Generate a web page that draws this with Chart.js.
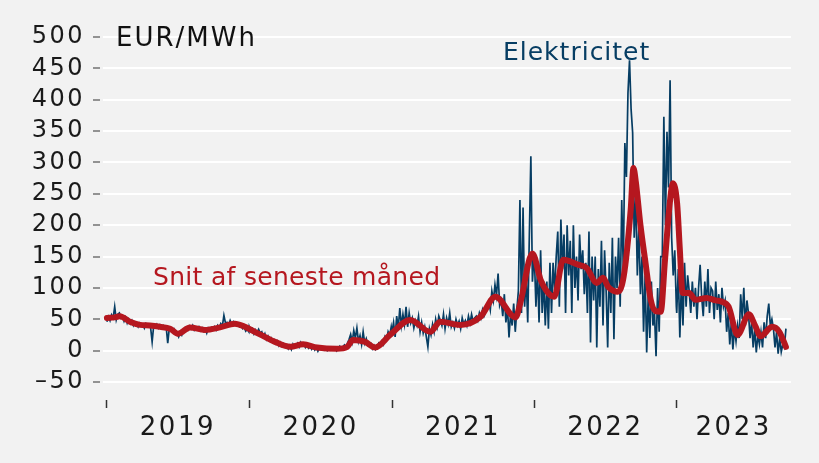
<!DOCTYPE html>
<html lang="da">
<head>
<meta charset="utf-8">
<title>Elektricitet</title>
<script src="https://cdn.jsdelivr.net/npm/chart.js@4.4.0/dist/chart.umd.min.js"></script>
<style>
  html, body { margin: 0; padding: 0; background: #f2f2f2; }
  #graf { display: block; }
</style>
</head>
<body>
<canvas id="graf" width="819" height="463"></canvas>
<script>
// Dage regnes fra 1. januar 2019
const aarStart = [0, 365, 731, 1096, 1461];
const aarMidt = [182, 548, 913, 1278, 1607];
const aarNavn = ['2019', '2020', '2021', '2022', '2023'];
const yTicks = [-50, 0, 50, 100, 150, 200, 250, 300, 350, 400, 450, 500];
const stepDage = 4;

// Elpris (EUR/MWh), et punkt hver 4. dag
const pris2019 = [46, 54, 48, 57, 52, 70, 49, 58,
  60, 52, 55, 47, 53, 44, 50,
  43, 48, 40, 45, 42, 38, 44, 41,
  42, 36, 43, 39, 41, 37, 14, 40,
  38, 42, 36, 41, 37, 40, 35,
  38, 12, 36, 33, 30, 34, 26, 28,
  22, 30, 25, 33, 31, 36, 33, 39,
  35, 40, 33, 37, 34, 38, 32, 36,
  31, 35, 28, 36, 33, 37, 34,
  38, 33, 40, 36, 43, 39, 56, 44,
  45, 40, 48, 42, 46, 41, 44,
  42, 38, 40, 35, 37, 31, 34, 30];
const pris2020 = [38, 31, 35, 27, 33, 29, 34, 28,
  30, 22, 27, 18, 23, 16, 20, 14,
  17, 11, 15, 8, 13, 7, 11, 6,
  9, 3, 8, 2, 10, 5, 9,
  12, 6, 13, 8, 11, 5, 9, 4,
  7, 2, 6, 1, 5, -1, 4, 2,
  5, 1, 4, 0, 3, 1, 4,
  2, 5, 0, 4, 7, 3, 6, 9,
  5, 12, 18, 26, 14, 32, 20, 36,
  15, 24, 10, 30, 12, 19, 8,
  7, 11, 3, 8, 2, 6, 12, 9,
  15, 10, 22, 17, 30, 24, 38];
const pris2021 = [30, 45, 22, 55, 35, 68, 40, 58,
  42, 70, 38, 60, 44, 52, 36, 48,
  40, 55, 30, 45, 28, 38, 22, 6,
  35, 25, 42, 30, 50, 38, 55,
  48, 40, 58, 35, 52, 42, 60, 38,
  45, 36, 50, 40, 47, 35, 52, 42,
  48, 40, 55, 44, 58, 47, 52,
  55, 48, 60, 52, 65, 55, 62, 70,
  78, 65, 95, 80, 105, 88, 123, 72,
  80, 55, 90, 45, 70, 21, 60,
  40, 75, 30, 65, 95, 240, 60, 228,
  70, 120, 45, 180, 310, 110, 150];
const pris2022 = [150, 70, 130, 45, 160, 60, 110, 40,
  110, 35, 140, 60, 140, 95, 150,
  190, 70, 209, 130, 185, 60, 200, 120,
  175, 60, 200, 100, 150, 80, 185, 130,
  160, 90, 140, 60, 190, 13, 150,
  80, 150, 5, 130, 70, 175, 40, 160,
  95, 5, 140, 60, 180, 18, 150, 100,
  180, 70, 240, 130, 331, 277, 411, 463,
  385, 347, 180, 250, 120, 200, 90,
  150, 30, 120, -3, 90, 20, 110, 40,
  60, -9, 100, 30, 150,
  150, 373, 200, 349, 260, 431, 180, 120, 160, 70];
const pris2023 = [60, 130, 21, 110, 40, 140, 70, 120,
  95, 60, 110, 70, 100, 50, 100,
  137, 85, 55, 110, 70, 130, 60, 100,
  95, 50, 110, 65, 90, 45, 100, 70,
  80, 30, 60, 10, 45, 2, 35,
  15, 40, 20, 90, 50, 100, 40, 80,
  60, 20, 45, 5, 35, -3, 25, 10,
  30, 5, 45, 20, 55, 75, 40, 50,
  35, 5, 30, -5, 20, -2, 10,
  5, 35];

// Snit af seneste måned
const snitDag = [0, 20, 33, 59, 85, 110, 136, 162, 182, 213,
  251, 290, 328, 354, 379, 405, 431, 470, 503, 539,
  590, 616, 631, 662, 688, 726, 778, 829, 855, 906,
  958, 996, 1048, 1060, 1091, 1112, 1131, 1147, 1170, 1208,
  1230, 1256, 1272, 1285, 1310, 1325, 1343, 1350, 1356, 1368,
  1381, 1394, 1407, 1420, 1431, 1444, 1451, 1462, 1469, 1476,
  1493, 1509, 1538, 1561, 1577, 1594, 1617, 1646, 1662, 1676,
  1706, 1724, 1741];
const snitPris = [52, 53, 55, 46, 41, 40, 38, 35, 27, 37,
  33, 37, 43, 38, 30, 22, 14, 6, 10, 5,
  3, 6, 17, 14, 5, 25, 49, 30, 46, 41,
  54, 86, 53, 76, 155, 113, 92, 86, 145, 137,
  132, 108, 116, 102, 94, 118, 225, 291, 270, 200,
  140, 82, 63, 62, 145, 240, 267, 235, 161, 92,
  92, 81, 84, 80, 78, 70, 25, 58, 40, 23,
  38, 30, 6];

const font = "'DejaVu Sans', sans-serif";
const blaa = '#063d63';
const roed = '#b5171f';

// Byg punkter
const aarPriser = [pris2019, pris2020, pris2021, pris2022, pris2023];
const elPunkter = [];
aarPriser.forEach((liste, a) => {
  liste.forEach((v, i) => {
    elPunkter.push({ x: aarStart[a] + i * stepDage, y: v });
  });
});
const snitPunkter = snitDag.map((d, i) => ({ x: d, y: snitPris[i] }));

// Baggrund og tekster
const tekstPlugin = {
  id: 'tekster',
  beforeDraw(chart) {
    const c = chart.ctx;
    c.save();
    c.fillStyle = '#f2f2f2';
    c.fillRect(0, 0, chart.width, chart.height);
    c.restore();
    c.letterSpacing = '2.5px';
  },
  afterDraw(chart) {
    const c = chart.ctx;
    c.save();
    c.textAlign = 'left';
    c.textBaseline = 'alphabetic';

    c.font = '26px ' + font;
    c.letterSpacing = '2px';
    c.fillStyle = '#111111';
    c.fillText('EUR/MWh', 116, 46);

    c.font = '25px ' + font;
    c.letterSpacing = '1px';
    c.fillStyle = blaa;
    c.fillText('Elektricitet', 503, 60);

    c.letterSpacing = '0.3px';
    c.fillStyle = roed;
    c.fillText('Snit af seneste måned', 153, 285);
    c.restore();
  }
};

new Chart(document.getElementById('graf'), {
  type: 'line',
  data: {
    datasets: [
      {
        label: 'Elektricitet',
        data: elPunkter,
        borderColor: blaa,
        borderWidth: 1.7,
        pointRadius: 0,
        tension: 0,
        order: 1
      },
      {
        label: 'Snit af seneste måned',
        data: snitPunkter,
        borderColor: roed,
        borderWidth: 6,
        pointRadius: 0,
        cubicInterpolationMode: 'monotone',
        borderCapStyle: 'round',
        borderJoinStyle: 'round',
        order: 0
      }
    ]
  },
  options: {
    responsive: false,
    animation: false,
    devicePixelRatio: 1,
    layout: { padding: { left: 0, right: 28, top: 37, bottom: 23 } },
    plugins: {
      legend: { display: false },
      tooltip: { enabled: false }
    },
    scales: {
      x: {
        type: 'linear',
        min: -10,
        max: 1754,
        afterBuildTicks: (s) => {
          s.ticks = aarStart.concat(aarMidt).sort((a, b) => a - b).map(v => ({ value: v }));
        },
        afterFit: (s) => { s.height = 40; },
        border: { display: false },
        grid: {
          drawOnChartArea: false,
          tickLength: 8,
          tickWidth: 1.5,
          tickColor: (ctx) => (ctx.tick && aarStart.includes(ctx.tick.value)) ? '#333333' : 'rgba(0,0,0,0)'
        },
        ticks: {
          autoSkip: false,
          maxRotation: 0,
          padding: 5,
          color: '#1a1a1a',
          font: { family: font, size: 26 },
          callback: (v) => {
            const i = aarMidt.indexOf(v);
            return i >= 0 ? aarNavn[i] : '';
          }
        }
      },
      y: {
        min: -78.7,
        max: 500,
        afterBuildTicks: (s) => {
          s.ticks = yTicks.map(v => ({ value: v }));
        },
        afterFit: (s) => { s.width = 103; },
        border: { display: false },
        grid: {
          color: '#ffffff',
          lineWidth: 2,
          tickColor: '#333333',
          tickLength: 10,
          tickWidth: 1,
          tickBorderDash: [7, 3]
        },
        ticks: {
          padding: 8,
          color: '#1a1a1a',
          font: { family: font, size: 24 },
          callback: (v) => v < 0 ? '–' + Math.abs(v) : String(v)
        }
      }
    }
  },
  plugins: [tekstPlugin]
});
</script>
</body>
</html>
